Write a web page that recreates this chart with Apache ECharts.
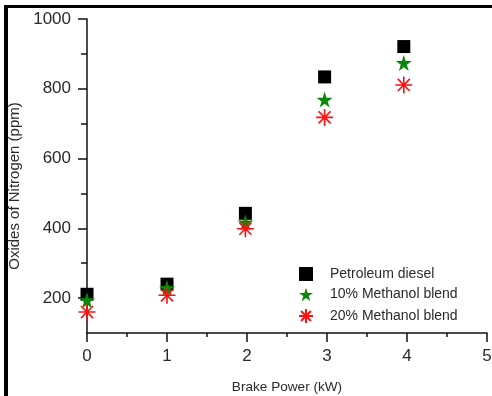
<!DOCTYPE html>
<html>
<head>
<meta charset="utf-8">
<script src="https://cdn.jsdelivr.net/npm/echarts@6/dist/echarts.min.js"></script>
<style>
	html, body { margin: 0; padding: 0; background: #fff; }
	#noxChart { width: 492px; height: 396px; }
</style>
</head>
<body>
<div id="noxChart"></div>
<script>
	// brake power (kW) for each load step
	const brakePower = [0, 1, 1.98, 2.97, 3.96]
	// oxides of nitrogen (ppm)
	const dieselNox = [211, 240, 443, 834, 921]
	const methanol10Nox = [194, 229, 417, 769, 874]
	const methanol20Nox = [160, 208, 399, 718, 811]
	const seriesNames = ['Petroleum diesel', '10% Methanol blend', '20% Methanol blend']

	const xMajorTicks = [0, 1, 2, 3, 4, 5]
	const xMinorTicks = [0.5, 1.5, 2.5, 3.5, 4.5]
	const yMajorTicks = [200, 400, 600, 800, 1000]
	const yMinorTicks = [300, 500, 700, 900]

	const starPath = 'path://M50 0 L61.8 36.2 L100 36.2 L69.1 58.6 L80.9 95.1 L50 72.6 L19.1 95.1 L30.9 58.6 L0 36.2 L38.2 36.2 Z'
	const asteriskPath = 'path://M50 0 L50 100 M0 50 L100 50 M14.6 14.6 L85.4 85.4 M85.4 14.6 L14.6 85.4'

	const toPoints = (vals) => brakePower.map((x, i) => [x, vals[i]])

	const chart = echarts.init(document.getElementById('noxChart'), null, { renderer: 'canvas' })
	const axisColor = '#111'
	const textColor = '#2a2a2a'
	const fontFamily = 'Liberation Sans, Arial'

	const option = {
		backgroundColor: '#fff',
		animation: false,
		grid: { left: 87, right: 5, top: 19, bottom: 63, outerBoundsMode: 'none', containLabel: false },
		graphic: [
			{ type: 'rect', shape: { x: 4, y: 5, width: 4, height: 391 }, style: { fill: '#000' } },
			{ type: 'rect', shape: { x: 4, y: 5, width: 488, height: 3 }, style: { fill: '#000' } }
		],
		legend: {
			orient: 'vertical',
			left: 298,
			top: 267,
			padding: 0,
			itemWidth: 14,
			itemHeight: 14,
			itemGap: 6.5,
			textStyle: {
				fontFamily: fontFamily,
				fontSize: 14,
				color: textColor,
				padding: [0, 0, 0, 12],
				lineHeight: 14
			},
			data: [
				{ name: seriesNames[0], icon: 'rect' },
				{ name: seriesNames[1], icon: starPath },
				{ name: seriesNames[2], icon: asteriskPath }
			]
		},
		xAxis: [
			{
				type: 'value',
				min: 0,
				max: 5,
				interval: 1,
				name: 'Brake Power (kW)',
				nameLocation: 'middle',
				nameGap: 47,
				nameTextStyle: { fontFamily: fontFamily, fontSize: 13.6, color: textColor },
				axisLine: { show: true, onZero: false, lineStyle: { color: axisColor, width: 1.5 } },
				axisTick: { show: true, length: 9, customValues: xMajorTicks, lineStyle: { color: axisColor, width: 1.5 } },
				axisLabel: { customValues: xMajorTicks, margin: 15, fontFamily: fontFamily, fontSize: 17, color: textColor },
				splitLine: { show: false }
			},
			{
				type: 'value',
				min: 0,
				max: 5,
				position: 'bottom',
				axisLine: { show: false },
				axisTick: { show: true, length: 4, customValues: xMinorTicks, lineStyle: { color: axisColor, width: 1.5 } },
				axisLabel: { show: false },
				splitLine: { show: false }
			}
		],
		yAxis: [
			{
				type: 'value',
				min: 100,
				max: 1000,
				name: 'Oxides of Nitrogen (ppm)',
				nameLocation: 'middle',
				nameGap: 64,
				nameTextStyle: { fontFamily: fontFamily, fontSize: 15, color: textColor, padding: [0, 20, 0, 0] },
				axisLine: { show: true, onZero: false, lineStyle: { color: axisColor, width: 1.5 } },
				axisTick: { show: true, length: 9, customValues: yMajorTicks, lineStyle: { color: axisColor, width: 1.5 } },
				axisLabel: {
					customValues: yMajorTicks,
					margin: 16,
					fontFamily: fontFamily,
					fontSize: 17,
					color: textColor,
					formatter: (v) => String(v)
				},
				splitLine: { show: false }
			},
			{
				type: 'value',
				min: 100,
				max: 1000,
				position: 'left',
				axisLine: { show: false },
				axisTick: { show: true, length: 6, customValues: yMinorTicks, lineStyle: { color: axisColor, width: 1.5 } },
				axisLabel: { show: false },
				splitLine: { show: false }
			}
		],
		series: [
			{
				name: seriesNames[0],
				type: 'scatter',
				symbol: 'rect',
				symbolSize: 13,
				itemStyle: { color: '#000', opacity: 1 },
				data: toPoints(dieselNox),
				z: 2
			},
			{
				name: seriesNames[1],
				type: 'scatter',
				symbol: starPath,
				symbolSize: 16,
				itemStyle: { color: '#0a870a', opacity: 1 },
				data: toPoints(methanol10Nox),
				z: 3
			},
			{
				name: seriesNames[2],
				type: 'scatter',
				symbol: asteriskPath,
				symbolSize: 17,
				itemStyle: { color: '#ff1010', borderColor: '#ff1010', borderWidth: 1.6, opacity: 1 },
				data: toPoints(methanol20Nox),
				z: 4
			}
		]
	}

	chart.setOption(option)
	window.onresize = () => {
		chart.resize()
	}
</script>
</body>
</html>
